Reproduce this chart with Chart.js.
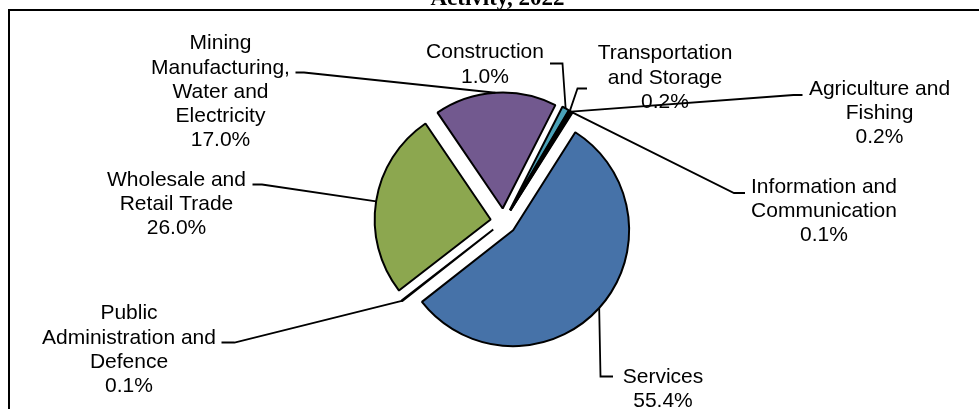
<!DOCTYPE html>
<html>
<head>
<meta charset="utf-8">
<script src="https://cdn.jsdelivr.net/npm/chart.js@4.4.0/dist/chart.umd.min.js"></script>
<style>
  html, body { margin: 0; padding: 0; background: #fff; }
  #wrap { position: relative; width: 979px; height: 409px; }
</style>
</head>
<body>
<div id="wrap"><canvas id="pie"></canvas></div>
<script>
const titleText = 'Activity, 2022';
const categories = [
  'Construction',
  'Transportation\nand Storage',
  'Agriculture and\nFishing',
  'Information and\nCommunication',
  'Services',
  'Public\nAdministration and\nDefence',
  'Wholesale and\nRetail Trade',
  'Mining\nManufacturing,\nWater and\nElectricity'
];
const shares = [1.0, 0.2, 0.2, 0.1, 55.4, 0.1, 26.0, 17.0];
const sliceColors = ['#4aa2b9', '#2c4d75', '#772c2a', '#5f7530', '#4672a8', '#4d3b62', '#8ca74f', '#72598f'];

// where each label sits: centre x, first line y, stub start and elbow of the leader
const labelLayout = [
  { x: 485, y: 52.5, stub: [550, 63.5], elbow: [562.5, 63.5] },
  { x: 665, y: 53.5, stub: [587, 88.5], elbow: [577.5, 88.5] },
  { x: 879.5, y: 89, stub: [802.5, 95], elbow: [793.5, 95] },
  { x: 824, y: 187, stub: [745, 193], elbow: [734, 193] },
  { x: 663, y: 377, stub: [613, 376.5], elbow: [600.5, 376.5] },
  { x: 129, y: 313.5, stub: [221.5, 342.5], elbow: [234.5, 342.5] },
  { x: 176.5, y: 180, stub: [252.5, 184.5], elbow: [262, 184.5] },
  { x: 220.5, y: 43.5, stub: [295.5, 72.5], elbow: [304, 72.5] }
];

const EXPLODE = 13;
const LINE_GAP = 24.3;

// pulls every slice out from the centre along its middle angle
const explodePlugin = {
  id: 'explode',
  afterDatasetUpdate(chart, args) {
    args.meta.data.forEach(arc => {
      const mid = (arc.startAngle + arc.endAngle) / 2;
      arc.x += Math.cos(mid) * EXPLODE;
      arc.y += Math.sin(mid) * EXPLODE;
    });
  }
};

// outer frame and the clipped title line above it
const framePlugin = {
  id: 'frame',
  beforeDraw(chart) {
    const ctx = chart.ctx;
    ctx.save();
    ctx.fillStyle = '#000';
    ctx.font = 'bold 23px "Liberation Serif", "Times New Roman", serif';
    ctx.textAlign = 'center';
    ctx.textBaseline = 'alphabetic';
    ctx.fillText(titleText, 497.5, 4.5);
    ctx.strokeStyle = '#000';
    ctx.lineWidth = 2;
    ctx.beginPath();
    ctx.moveTo(9, 409);
    ctx.lineTo(9, 10);
    ctx.lineTo(979, 10);
    ctx.stroke();
    ctx.restore();
  }
};

// leader lines from each slice's outer edge to its label, then the label text
const labelPlugin = {
  id: 'sliceLabels',
  afterDatasetsDraw(chart) {
    const ctx = chart.ctx;
    const arcs = chart.getDatasetMeta(0).data;
    ctx.save();
    ctx.strokeStyle = '#000';
    ctx.lineWidth = 1.8;
    arcs.forEach((arc, i) => {
      const mid = (arc.startAngle + arc.endAngle) / 2;
      const px = arc.x + Math.cos(mid) * arc.outerRadius;
      const py = arc.y + Math.sin(mid) * arc.outerRadius;
      const lay = labelLayout[i];
      ctx.beginPath();
      ctx.moveTo(lay.stub[0], lay.stub[1]);
      ctx.lineTo(lay.elbow[0], lay.elbow[1]);
      ctx.lineTo(px, py);
      ctx.stroke();
    });
    ctx.fillStyle = '#000';
    ctx.font = '21px "Liberation Sans", Arial, sans-serif';
    ctx.textAlign = 'center';
    ctx.textBaseline = 'middle';
    categories.forEach((name, i) => {
      const lay = labelLayout[i];
      const lines = name.split('\n').concat(shares[i].toFixed(1) + '%');
      lines.forEach((line, k) => ctx.fillText(line, lay.x, lay.y + k * LINE_GAP));
    });
    ctx.restore();
  }
};

new Chart(document.getElementById('pie'), {
  type: 'pie',
  data: {
    labels: categories,
    datasets: [{
      data: shares,
      backgroundColor: sliceColors,
      borderColor: '#000',
      borderWidth: 2
    }]
  },
  options: {
    responsive: true,
    maintainAspectRatio: false,
    animation: false,
    events: [],
    rotation: 27,
    radius: 116,
    layout: { padding: { left: 28, right: 0, top: 34, bottom: 0 } },
    plugins: {
      legend: { display: false },
      tooltip: { enabled: false },
      title: { display: false }
    }
  },
  plugins: [explodePlugin, framePlugin, labelPlugin]
});
</script>
</body>
</html>
